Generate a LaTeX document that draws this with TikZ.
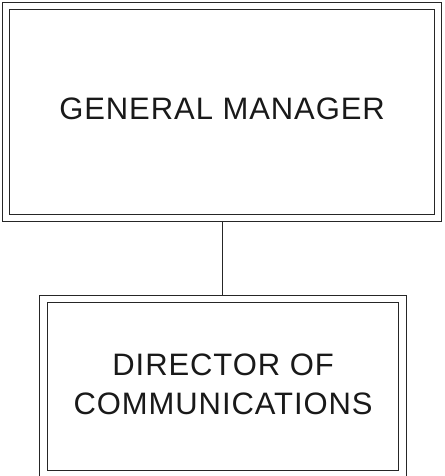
\documentclass[tikz,border=0pt]{standalone}
\usepackage{fontspec}
\setmainfont{Liberation Sans}[LetterSpace=3]
\begin{document}
\begin{tikzpicture}[x=1pt,y=-1pt,
  box/.style={draw=black!85, line width=1pt, double=white, double distance=6.5pt,
    outer sep=4.25pt, inner sep=0pt, align=center,
    font=\fontsize{31}{39}\selectfont, text=black!90},
  link/.style={draw=black!85, line width=1.2pt}]
\useasboundingbox (0,0) rectangle (444,476);
\node[box, minimum width=431.75pt, minimum height=211.75pt, text depth=6pt] (gm) at (222.1,112.1) {GENERAL MANAGER};
\node[box, minimum width=358.75pt, minimum height=175.25pt, text depth=4pt] (dc) at (223.1,386.4) {DIRECTOR OF\\COMMUNICATIONS};
\draw[link] (gm.south -| 222.7,0) -- (dc.north -| 222.7,0);
\end{tikzpicture}
\end{document}
